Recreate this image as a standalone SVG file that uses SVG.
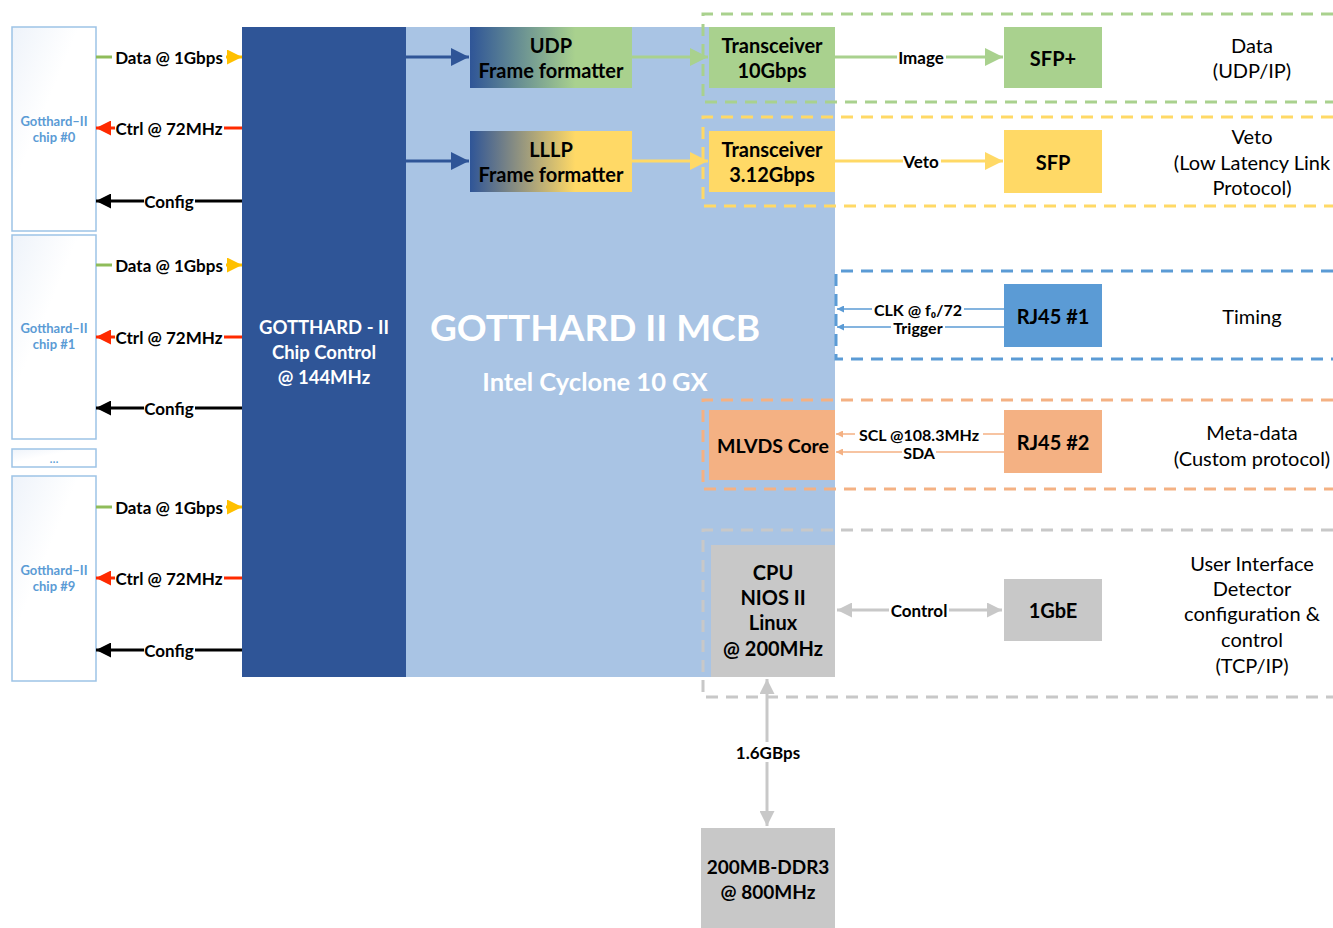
<svg xmlns="http://www.w3.org/2000/svg" width="1333" height="928" viewBox="0 0 1333 928">
<defs>
<style>
text{font-family:Lato,"Open Sans","Liberation Sans",sans-serif;font-weight:bold;text-anchor:middle;dominant-baseline:central;fill:#000}
.chip{fill:url(#chipg);stroke:#9dc3e6;stroke-width:1.5}
.chipt{fill:#5b9bd5;font-size:13px;font-weight:bold}
.lbl{font-size:17px}
.sm{font-size:16px}
.box{font-size:20px}
.rt{font-size:20px;font-weight:normal}
.w{fill:#fff}
.dash{fill:none;stroke-width:3;stroke-dasharray:12 8}
</style>
<linearGradient id="chipg" x1="0" y1="0" x2="1" y2="1"><stop offset="0" stop-color="#eef3fa"/><stop offset="0.4" stop-color="#ffffff"/><stop offset="1" stop-color="#ffffff"/></linearGradient>
<linearGradient id="gudp" x1="0" y1="0" x2="1" y2="0"><stop offset="0" stop-color="#2f5597"/><stop offset="0.65" stop-color="#a9d18e"/></linearGradient>
<linearGradient id="glllp" x1="0" y1="0" x2="1" y2="0"><stop offset="0" stop-color="#2f5597"/><stop offset="0.65" stop-color="#ffd966"/></linearGradient>
<marker id="aY" viewBox="0 0 10 10" refX="10" refY="5" markerWidth="5" markerHeight="5" orient="auto"><path d="M0,0 L10,5 L0,10 z" fill="#ffc000"/></marker>
<marker id="aR" viewBox="0 0 10 10" refX="10" refY="5" markerWidth="5" markerHeight="5" orient="auto"><path d="M0,0 L10,5 L0,10 z" fill="#ff2a00"/></marker>
<marker id="aK" viewBox="0 0 10 10" refX="10" refY="5" markerWidth="5" markerHeight="5" orient="auto"><path d="M0,0 L10,5 L0,10 z" fill="#000"/></marker>
<marker id="aB" viewBox="0 0 10 10" refX="10" refY="5" markerWidth="6" markerHeight="6" orient="auto"><path d="M0,0 L10,5 L0,10 z" fill="#2f5597"/></marker>
<marker id="aG" viewBox="0 0 10 10" refX="10" refY="5" markerWidth="6" markerHeight="6" orient="auto"><path d="M0,0 L10,5 L0,10 z" fill="#a9d18e"/></marker>
<marker id="aYl" viewBox="0 0 10 10" refX="10" refY="5" markerWidth="6" markerHeight="6" orient="auto"><path d="M0,0 L10,5 L0,10 z" fill="#ffd966"/></marker>
<marker id="aLB" viewBox="0 0 10 10" refX="10" refY="5" markerWidth="7" markerHeight="7" markerUnits="userSpaceOnUse" orient="auto"><path d="M0,0 L10,5 L0,10 z" fill="#5b9bd5"/></marker>
<marker id="aO" viewBox="0 0 10 10" refX="10" refY="5" markerWidth="7" markerHeight="7" markerUnits="userSpaceOnUse" orient="auto"><path d="M0,0 L10,5 L0,10 z" fill="#f4b183"/></marker>
<marker id="aGr" viewBox="0 0 10 10" refX="10" refY="5" markerWidth="5" markerHeight="5" orient="auto-start-reverse"><path d="M0,0 L10,5 L0,10 z" fill="#c8c8c8"/></marker>
</defs>
<rect width="1333" height="928" fill="#fff"/>

<g id="chip0"><rect class="chip" x="12" y="27" width="84" height="204"/><text class="chipt" x="54" y="121">Gotthard–II</text><text class="chipt" x="54" y="137">chip #0</text></g>
<g id="chip1"><rect class="chip" x="12" y="235" width="84" height="204"/><text class="chipt" x="54" y="328">Gotthard–II</text><text class="chipt" x="54" y="344">chip #1</text></g>
<g id="chipdots"><rect class="chip" x="12" y="449" width="84" height="18"/><text class="chipt" x="54" y="458" style="font-weight:normal">...</text></g>
<g id="chip9"><rect class="chip" x="12" y="476" width="84" height="205"/><text class="chipt" x="54" y="570">Gotthard–II</text><text class="chipt" x="54" y="586">chip #9</text></g>

<g id="mcb"><rect x="406" y="27" width="429" height="650" fill="#a9c4e4"/>
<text class="w" x="595" y="326" style="font-size:37px">GOTTHARD II MCB</text>
<text class="w" x="595" y="381" style="font-size:25.5px">Intel Cyclone 10 GX</text></g>
<g id="chipctrl"><rect x="242" y="27" width="164" height="650" fill="#2f5597"/>
<text class="w" x="324" y="327" style="font-size:18.5px">GOTTHARD - II</text>
<text class="w" x="324" y="352" style="font-size:18.5px">Chip Control</text>
<text class="w" x="324" y="377" style="font-size:18.5px">@ 144MHz</text></g>

<g id="udp"><rect x="470" y="27" width="162" height="61" fill="url(#gudp)"/><text class="box" x="551" y="45">UDP</text><text class="box" x="551" y="70">Frame formatter</text></g>
<g id="lllp"><rect x="470" y="131" width="162" height="61" fill="url(#glllp)"/><text class="box" x="551" y="149">LLLP</text><text class="box" x="551" y="174">Frame formatter</text></g>
<g id="tx10"><rect x="709" y="27" width="126" height="61" fill="#a9d18e"/><text class="box" x="772" y="45">Transceiver</text><text class="box" x="772" y="70">10Gbps</text></g>
<g id="tx3"><rect x="709" y="131" width="126" height="61" fill="#ffd966"/><text class="box" x="772" y="149">Transceiver</text><text class="box" x="772" y="174">3.12Gbps</text></g>
<g id="mlvds"><rect x="709" y="410" width="126" height="70" fill="#f4b183"/><text class="box" x="773" y="445" style="font-size:19.5px">MLVDS Core</text></g>
<g id="cpu"><rect x="711" y="545" width="124" height="132" fill="#c8c8c8"/><text class="box" x="773" y="572">CPU</text><text class="box" x="773" y="597">NIOS II</text><text class="box" x="773" y="622">Linux</text><text class="box" x="773" y="648">@ 200MHz</text></g>
<g id="sfpp"><rect x="1004" y="27" width="98" height="61" fill="#a9d18e"/><text class="box" x="1053" y="58">SFP+</text></g>
<g id="sfp"><rect x="1004" y="130" width="98" height="63" fill="#ffd966"/><text class="box" x="1053" y="162">SFP</text></g>
<g id="rj1"><rect x="1004" y="284" width="98" height="63" fill="#5b9bd5"/><text class="box" x="1053" y="316">RJ45 #1</text></g>
<g id="rj2"><rect x="1004" y="410" width="98" height="63" fill="#f4b183"/><text class="box" x="1053" y="442">RJ45 #2</text></g>
<g id="gbe"><rect x="1004" y="579" width="98" height="62" fill="#c8c8c8"/><text class="box" x="1053" y="610">1GbE</text></g>
<g id="ddr"><rect x="701" y="828" width="134" height="100" fill="#c8c8c8"/><text class="box" x="768" y="866" style="font-size:19px">200MB-DDR3</text><text class="box" x="768" y="891" style="font-size:19px">@ 800MHz</text></g>

<g id="groups">
<path class="dash" stroke="#a9d18e" d="M1333,14 H703 V102 H1333"/>
<path class="dash" stroke="#ffd966" d="M1333,117 H703 V206 H1333"/>
<path class="dash" stroke="#5b9bd5" d="M1333,271 H836 V359 H1333"/>
<path class="dash" stroke="#f4b183" d="M1333,400 H703 V489 H1333"/>
<path class="dash" stroke="#c8c8c8" d="M1333,530 H703 V697 H1333"/>
<text class="rt" x="1252" y="45">Data</text><text class="rt" x="1252" y="70">(UDP/IP)</text>
<text class="rt" x="1252" y="136">Veto</text><text class="rt" x="1252" y="162">(Low Latency Link</text><text class="rt" x="1252" y="187">Protocol)</text>
<text class="rt" x="1252" y="316">Timing</text>
<text class="rt" x="1252" y="432">Meta-data</text><text class="rt" x="1252" y="458">(Custom protocol)</text>
<text class="rt" x="1252" y="563">User Interface</text><text class="rt" x="1252" y="588">Detector</text><text class="rt" x="1252" y="613">configuration &amp;</text><text class="rt" x="1252" y="639">control</text><text class="rt" x="1252" y="665">(TCP/IP)</text>
</g>

<g id="connectors">
<g id="c0">
<line x1="96" y1="57" x2="112" y2="57" stroke="#8fbc5a" stroke-width="3"/><line x1="226" y1="57" x2="242" y2="57" stroke="#ffc000" stroke-width="3" marker-end="url(#aY)"/><text class="lbl" x="169" y="57">Data @ 1Gbps</text>
<line x1="242" y1="128" x2="224" y2="128" stroke="#ff2a00" stroke-width="3"/><line x1="115" y1="128" x2="96" y2="128" stroke="#ff2a00" stroke-width="3" marker-end="url(#aR)"/><text class="lbl" x="169" y="128">Ctrl @ 72MHz</text>
<line x1="242" y1="201" x2="195" y2="201" stroke="#000" stroke-width="3"/><line x1="144" y1="201" x2="96" y2="201" stroke="#000" stroke-width="3" marker-end="url(#aK)"/><text class="lbl" x="169" y="201">Config</text>
</g>
<g id="c1">
<line x1="96" y1="265" x2="112" y2="265" stroke="#8fbc5a" stroke-width="3"/><line x1="226" y1="265" x2="242" y2="265" stroke="#ffc000" stroke-width="3" marker-end="url(#aY)"/><text class="lbl" x="169" y="265">Data @ 1Gbps</text>
<line x1="242" y1="337" x2="224" y2="337" stroke="#ff2a00" stroke-width="3"/><line x1="115" y1="337" x2="96" y2="337" stroke="#ff2a00" stroke-width="3" marker-end="url(#aR)"/><text class="lbl" x="169" y="337">Ctrl @ 72MHz</text>
<line x1="242" y1="408" x2="195" y2="408" stroke="#000" stroke-width="3"/><line x1="144" y1="408" x2="96" y2="408" stroke="#000" stroke-width="3" marker-end="url(#aK)"/><text class="lbl" x="169" y="408">Config</text>
</g>
<g id="c9">
<line x1="96" y1="507" x2="112" y2="507" stroke="#8fbc5a" stroke-width="3"/><line x1="226" y1="507" x2="242" y2="507" stroke="#ffc000" stroke-width="3" marker-end="url(#aY)"/><text class="lbl" x="169" y="507">Data @ 1Gbps</text>
<line x1="242" y1="578" x2="224" y2="578" stroke="#ff2a00" stroke-width="3"/><line x1="115" y1="578" x2="96" y2="578" stroke="#ff2a00" stroke-width="3" marker-end="url(#aR)"/><text class="lbl" x="169" y="578">Ctrl @ 72MHz</text>
<line x1="242" y1="650" x2="195" y2="650" stroke="#000" stroke-width="3"/><line x1="144" y1="650" x2="96" y2="650" stroke="#000" stroke-width="3" marker-end="url(#aK)"/><text class="lbl" x="169" y="650">Config</text>
</g>
<line x1="406" y1="57" x2="469" y2="57" stroke="#2f5597" stroke-width="3" marker-end="url(#aB)"/>
<line x1="406" y1="161" x2="469" y2="161" stroke="#2f5597" stroke-width="3" marker-end="url(#aB)"/>
<line x1="632" y1="57" x2="708" y2="57" stroke="#a9d18e" stroke-width="3" marker-end="url(#aG)"/>
<line x1="632" y1="161" x2="708" y2="161" stroke="#ffd966" stroke-width="3" marker-end="url(#aYl)"/>
<line x1="835" y1="57" x2="1003" y2="57" stroke="#a9d18e" stroke-width="3" marker-end="url(#aG)"/>
<rect x="897" y="48" width="49" height="18" fill="#fff"/><text class="lbl" x="921" y="57">Image</text>
<line x1="835" y1="161" x2="1003" y2="161" stroke="#ffd966" stroke-width="3" marker-end="url(#aYl)"/>
<rect x="903" y="152" width="38" height="18" fill="#fff"/><text class="lbl" x="921" y="161">Veto</text>
<line x1="1004" y1="309" x2="837" y2="309" stroke="#5b9bd5" stroke-width="1.5" marker-end="url(#aLB)"/>
<line x1="1004" y1="327" x2="837" y2="327" stroke="#5b9bd5" stroke-width="1.5" marker-end="url(#aLB)"/>
<rect x="872" y="301" width="92" height="16" fill="#fff"/><text class="sm" x="918" y="309">CLK @ f₀/72</text>
<rect x="891" y="319" width="54" height="16" fill="#fff"/><text class="sm" x="918" y="327">Trigger</text>
<line x1="1004" y1="434" x2="836" y2="434" stroke="#f4b183" stroke-width="1.5" marker-end="url(#aO)"/>
<line x1="1004" y1="452" x2="836" y2="452" stroke="#f4b183" stroke-width="1.5" marker-end="url(#aO)"/>
<rect x="855" y="426" width="128" height="16" fill="#fff"/><text class="sm" x="919" y="434">SCL @108.3MHz</text>
<rect x="902" y="444" width="34" height="16" fill="#fff"/><text class="sm" x="919" y="452">SDA</text>
<line x1="837" y1="610" x2="1002" y2="610" stroke="#c8c8c8" stroke-width="3" marker-start="url(#aGr)" marker-end="url(#aGr)"/>
<rect x="889" y="600" width="60" height="20" fill="#fff"/><text class="lbl" x="919" y="610">Control</text>
<line x1="767" y1="679" x2="767" y2="826" stroke="#c8c8c8" stroke-width="3" marker-start="url(#aGr)" marker-end="url(#aGr)"/>
<rect x="734" y="742" width="66" height="20" fill="#fff"/><text class="lbl" x="768" y="752">1.6GBps</text>
</g>
</svg>
